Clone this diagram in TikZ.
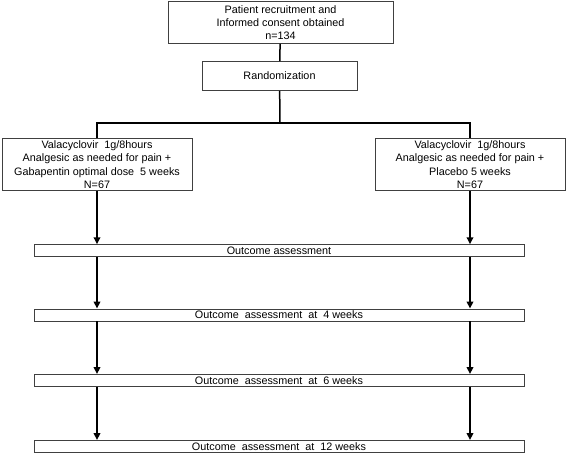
\documentclass[tikz,border=0pt]{standalone}
\usepackage{fontspec}
\setmainfont{Liberation Sans}
\usetikzlibrary{arrows.meta}
\tikzset{mybox/.style={draw=black!75,line width=0.9pt,align=center,inner sep=0pt,font=\fontsize{10.8}{13.3}\selectfont},
mygroup/.style={mybox,minimum width=190pt,minimum height=52pt},
myoutcome/.style={mybox,minimum width=490pt,minimum height=12pt},
myline/.style={line width=1.5pt},
myarrow/.style={line width=1.8pt,-{Triangle[length=7pt,width=6.5pt]}}}

\begin{document}
\begin{tikzpicture}[x=1pt,y=-1pt]
            \useasboundingbox (0,0) rectangle (567,455);
            % setup the nodes
            \node[mybox,minimum width=225pt,minimum height=42pt] (recruit) at (280.5,22.5)
                {Patient recruitment and\\Informed consent obtained\\n=134};
            \node[mybox,minimum width=155pt,minimum height=29pt] (rand) at (279.5,76) {Randomization};
            \node[mygroup] (grpA) at (97,164.5)
                {Valacyclovir\ \ 1g/8hours\\Analgesic as needed for pain +\\Gabapentin optimal dose\ \ 5 weeks\\N=67};
            \node[mygroup] (grpB) at (470,164.5)
                {Valacyclovir\ \ 1g/8hours\\Analgesic as needed for pain +\\Placebo 5 weeks\\N=67};
            \foreach \y/\name/\txt in {250.7/out0/{Outcome assessment},
                                       315/out4/{Outcome\ \ assessment\ \ at\ \ 4 weeks},
                                       380.5/out6/{Outcome\ \ assessment\ \ at\ \ 6 weeks},
                                       446.5/out12/{Outcome\ \ assessment\ \ at\ \ 12 weeks}}
            {
                \node[myoutcome] (\name) at (279,\y) {\txt};
            }
            % randomization split
            \coordinate (split) at (280,123);
            \draw[myline] (recruit) -- (rand);
            \draw[myline] (rand) -- (split);
            \draw[myline] (grpA.north) |- (split) -| (grpB.north);
            % arrows down both arms
            \foreach \from/\to in {grpA/out0,out0/out4,out4/out6,out6/out12}
            {
                \draw[myarrow] (\from.south -| grpA) -- (\to.north -| grpA);
                \draw[myarrow] (\from.south -| grpB) -- (\to.north -| grpB);
            }
        \end{tikzpicture}
\end{document}
